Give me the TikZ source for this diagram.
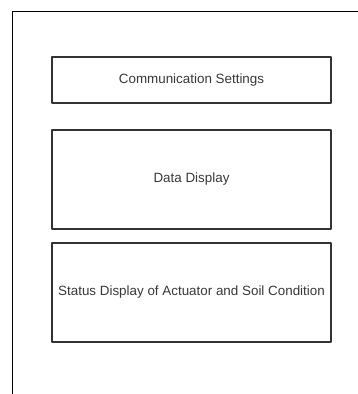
\documentclass[tikz,border=0pt]{standalone}
\usepackage{fontspec}
\setmainfont{Liberation Sans}
\begin{document}
\begin{tikzpicture}[x=1pt, y=-1pt, line join=round,
  font=\fontsize{13.4}{16}\selectfont,
  panel/.style={draw=black!80, line width=1.3pt, text=black!78, inner sep=0pt},
  declare function={xl=52; xr=331;}]
\useasboundingbox (0,0) rectangle (358,394);
%\draw[color=gray!50,dashed] (0,0) grid[step=20] (358,394);
\draw[line width=.9pt] (12,394)--(12,11)--(358,11);
\node[panel, minimum width=279pt, minimum height=46pt] (comm) at (191.5,80) {Communication Settings};
\node[panel, minimum width=279pt, minimum height=99pt] (data) at (191.5,179.5) {Data Display};
\node[panel, minimum width=279pt, minimum height=99pt] (status) at (191.5,292.5) {Status Display of Actuator and Soil Condition};
\end{tikzpicture}
\end{document}
